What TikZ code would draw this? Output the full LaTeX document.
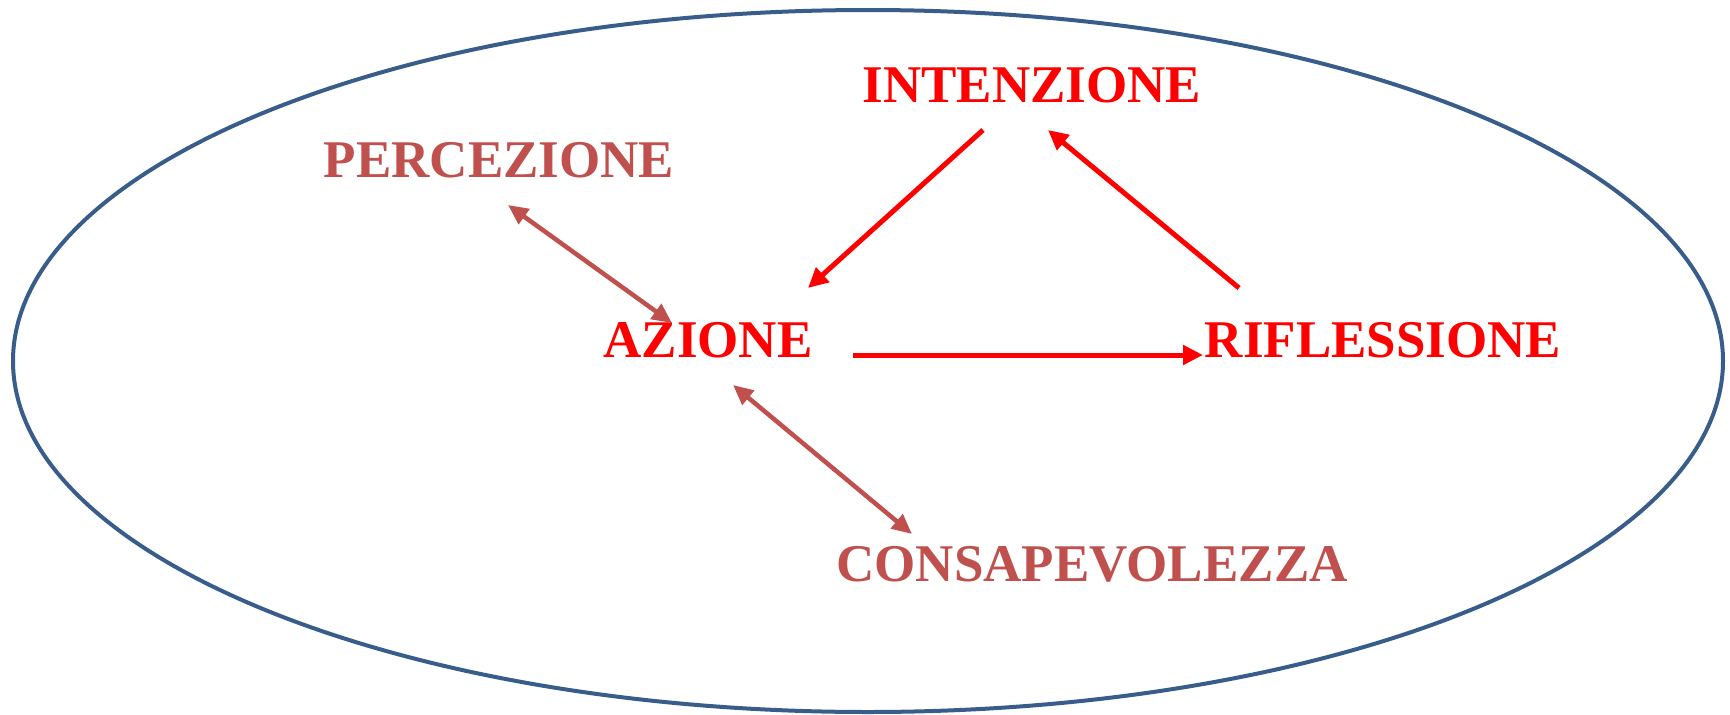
\documentclass[tikz,border=0pt]{standalone}
\usepackage{fontspec}
\setmainfont{Liberation Serif}
\usetikzlibrary{arrows.meta}
\definecolor{CycleRed}{HTML}{FF0000}
\definecolor{SideRed}{HTML}{C0504D}
\definecolor{RingBlue}{HTML}{385D8A}
\begin{document}
\begin{tikzpicture}[x=1pt,y=-1pt]
                  \tikzset{WordStyle/.style = {font = \bfseries\fontsize{53}{60}\selectfont,inner sep = 0pt},
                           CycleStyle/.style = {draw = CycleRed,line width = 5pt,-{Triangle[length=20pt,width=19pt]}},
                           SideStyle/.style = {draw = SideRed,line width = 4.5pt,{Triangle[length=20pt,width=18pt]}-{Triangle[length=20pt,width=18pt]}}}
                  \useasboundingbox (0,0) rectangle (1730,715);
                  \draw[RingBlue,line width=4pt] (868,361) ellipse [x radius=855pt,y radius=351pt];
                  % cycle
                  \node[WordStyle,text = CycleRed] (Intenzione) at (1032,85) {INTENZIONE};
                  \node[WordStyle,text = CycleRed] (Azione) at (708,340) {AZIONE};
                  \node[WordStyle,text = CycleRed] (Riflessione) at (1383,340) {RIFLESSIONE};
                  % side words
                  \node[WordStyle,text = SideRed] (Percezione) at (499,160) {PERCEZIONE};
                  \node[WordStyle,text = SideRed] (Consapevolezza) at (1092,564) {CONSAPEVOLEZZA};
                  \draw[CycleStyle] ([xshift=-49pt,yshift=-45pt]Intenzione.center) -- ([xshift=100pt,yshift=52pt]Azione.center);
                  \draw[CycleStyle] ([xshift=145pt,yshift=-15pt]Azione.center) -- ([xshift=-180pt,yshift=-15pt]Riflessione.center);
                  \draw[CycleStyle] ([xshift=-144pt,yshift=52pt]Riflessione.center) -- ([xshift=16pt,yshift=-45pt]Intenzione.center);
                  \draw[SideStyle] ([xshift=9pt,yshift=-45pt]Percezione.center) -- ([xshift=-36pt,yshift=17pt]Azione.center);
                  \draw[SideStyle] ([xshift=25pt,yshift=-45pt]Azione.center) -- ([xshift=-180pt,yshift=30pt]Consapevolezza.center);
              \end{tikzpicture}
\end{document}
